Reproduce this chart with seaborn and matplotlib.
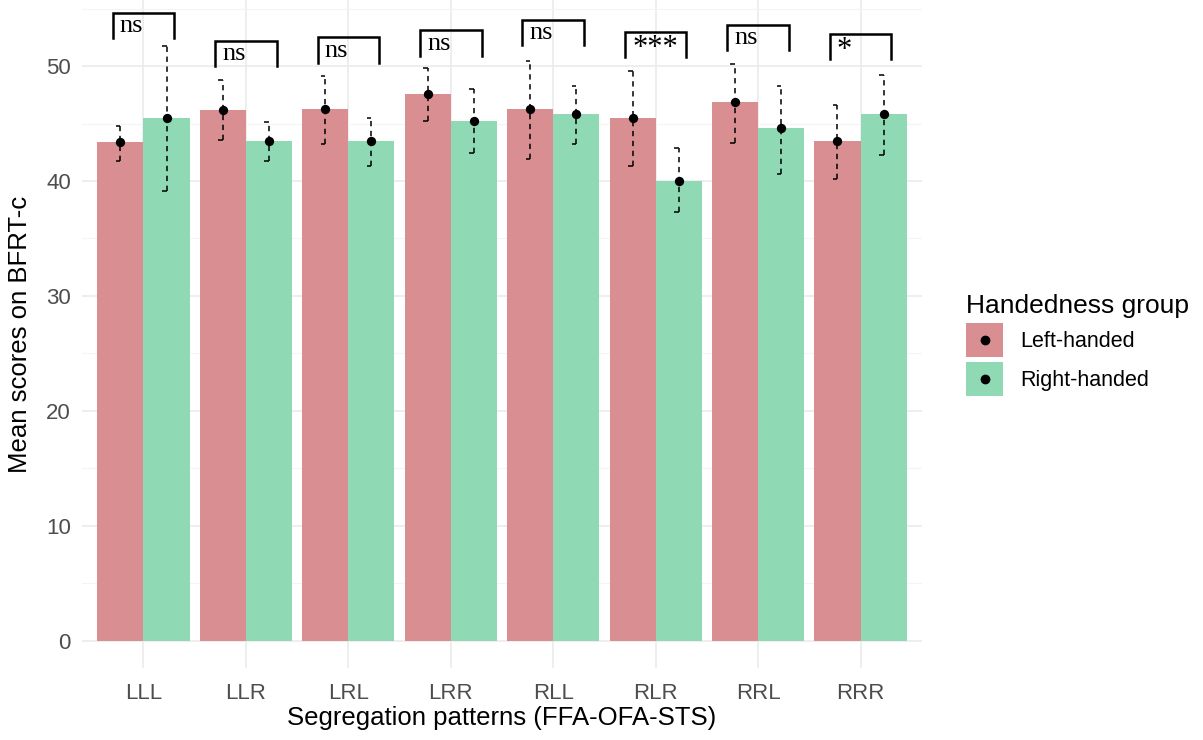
import numpy as np
import pandas as pd
import matplotlib
matplotlib.use("Agg")
import matplotlib.pyplot as plt
import seaborn as sns
from matplotlib.patches import Patch, Rectangle
from matplotlib.lines import Line2D
from matplotlib.legend_handler import HandlerBase

patterns = ["LLL", "LLR", "LRL", "LRR", "RLL", "RLR", "RRL", "RRR"]
groups = ["Left-handed", "Right-handed"]

left_mean = [43.4, 46.2, 46.3, 47.6, 46.3, 45.5, 46.9, 43.5]
right_mean = [45.5, 43.5, 43.5, 45.2, 45.8, 40.0, 44.6, 45.8]
left_low = [41.7, 43.6, 43.2, 45.2, 41.9, 41.3, 43.3, 40.2]
left_high = [44.8, 48.8, 49.1, 49.8, 50.4, 49.6, 50.2, 46.6]
right_low = [39.1, 41.7, 41.3, 42.4, 43.2, 37.3, 40.6, 42.3]
right_high = [51.7, 45.1, 45.5, 48.0, 48.3, 42.9, 48.3, 49.2]

sig_labels = ["ns", "ns", "ns", "ns", "ns", "***", "ns", "*"]
bracket_top = [54.6, 52.2, 52.5, 53.1, 54.0, 53.0, 53.6, 52.8]

colors = {"Left-handed": "#D98F91", "Right-handed": "#8FDAB5"}

df = pd.DataFrame({
    "pattern": patterns * 2,
    "group": [groups[0]] * 8 + [groups[1]] * 8,
    "score": left_mean + right_mean,
})


class KeyWithDot(HandlerBase):
    def create_artists(self, legend, orig_handle, xdescent, ydescent,
                       width, height, fontsize, trans):
        rect = Rectangle((-xdescent, -ydescent), width, height,
                         facecolor=orig_handle.get_facecolor(),
                         edgecolor="none", transform=trans)
        dot = Line2D([-xdescent + width / 2], [-ydescent + height / 2],
                     marker="o", color="black", ls="", markersize=6,
                     transform=trans)
        return [rect, dot]


plt.rcParams["font.family"] = ["Liberation Sans", "DejaVu Sans"]
fig = plt.figure(figsize=(12.03, 7.40), dpi=100)
ax = fig.add_axes([82 / 1203, 1 - 668 / 740, (922 - 82) / 1203, 668 / 740])

sns.barplot(data=df, x="pattern", y="score", hue="group", order=patterns,
            hue_order=groups, palette=colors, width=0.9, errorbar=None,
            saturation=1, ax=ax, legend=False, zorder=2)

lows = [left_low, right_low]
highs = [left_high, right_high]
means = [left_mean, right_mean]
for k, cont in enumerate(ax.containers):
    for i, bar in enumerate(cont.patches):
        xc = bar.get_x() + bar.get_width() / 2
        ax.vlines(xc, lows[k][i], highs[k][i], colors="black",
                  linestyles=(0, (3.5, 3)), lw=1.1, zorder=4)
        for yy in (lows[k][i], highs[k][i]):
            ax.hlines(yy, xc - 0.045, xc, colors="black", lw=1.1, zorder=4)
        ax.scatter([xc], [means[k][i]], s=45, color="black", zorder=5,
                   linewidths=0)

# significance brackets
for i, (lab, top) in enumerate(zip(sig_labels, bracket_top)):
    x0, x1 = i - 0.3, i + 0.3
    ax.plot([x0, x0, x1, x1], [top - 2.2, top, top, top - 2.2], color="black",
            lw=1.8, clip_on=False, zorder=6, solid_joinstyle="miter")
    ax.text(x0 + 0.07, top - 0.2, lab, ha="left", va="top",
            fontsize=19 if lab == "ns" else 22, family="Liberation Serif",
            zorder=6, clip_on=False)

ax.set_xlim(-0.6, 7.6)
ax.set_ylim(-2.35, 55.74)
ax.set_yticks([0, 10, 20, 30, 40, 50])
ax.set_yticks([5, 15, 25, 35, 45, 55], minor=True)
ax.set_facecolor("white")
ax.grid(True, which="major", color="#EBEBEB", lw=1.2, zorder=0)
ax.grid(True, which="minor", axis="y", color="#F4F4F4", lw=0.8, zorder=0)
ax.set_axisbelow(True)
for s in ax.spines.values():
    s.set_visible(False)
ax.tick_params(axis="both", which="both", length=0, labelsize=16,
               colors="#4D4D4D", pad=8)
ax.tick_params(axis="x", pad=11)
ax.set_xlabel("Segregation patterns (FFA-OFA-STS)", fontsize=18.5, color="black",
              labelpad=1)
ax.set_ylabel("Mean scores on BFRT-c", fontsize=18.5, color="black", labelpad=10)

handles = [Patch(facecolor=colors[g], edgecolor="none") for g in groups]
leg = fig.legend(handles, groups, handler_map={Patch: KeyWithDot()},
                 loc="upper left", bbox_to_anchor=(962 / 1203, 1 - 290 / 740),
                 frameon=False, fontsize=15.5, title="Handedness group",
                 title_fontsize=19, handlelength=1.72, handleheight=2.1,
                 handletextpad=0.8, labelspacing=0.2, borderaxespad=0,
                 borderpad=0.2)
leg._legend_box.align = "left"

fig.savefig("out.png", dpi=100)
